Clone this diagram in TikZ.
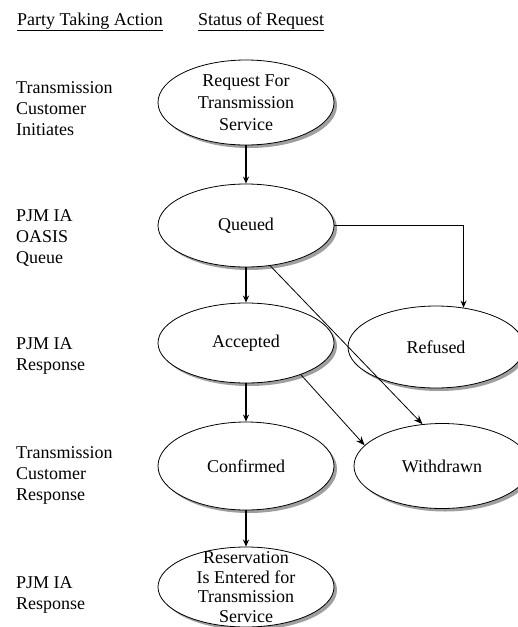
\documentclass[tikz,border=0pt]{standalone}
\usepackage{fontspec}
\setmainfont{Liberation Serif}
\usetikzlibrary{shapes.geometric,shadows,arrows.meta}
\newcommand\fs{\fontsize{18}{21}\selectfont}
\tikzset{
  state/.style={ellipse, draw, fill=white, line width=0.8pt, inner sep=0pt,
    minimum width=176pt, minimum height=84pt,
    drop shadow={shadow xshift=3pt, shadow yshift=-3pt, fill=gray!75, opacity=1}},
  txt/.style={align=center, font=\fs, inner sep=0pt},
  lbl/.style={align=left, font=\fs, inner sep=0pt, anchor=north west},
  head/.style={font=\fs, inner sep=0pt, anchor=base west},
  vflow/.style={line width=1.4pt, -{Stealth[length=7pt,width=6pt]}},
  dflow/.style={line width=0.8pt, -{Stealth[length=9pt,width=7pt,inset=3pt]}}
}
\begin{document}
\begin{tikzpicture}[x=1pt,y=-1pt]
\clip (0,0) rectangle (518,627);
\fill[white] (0,0) rectangle (518,627);
% headings
\node[head] (h1) at (17,25) {Party Taking Action};
\node[head] (h2) at (198,25) {Status of Request};
\draw[line width=1.3pt] ([yshift=-1.5pt]h1.south west) -- ([yshift=-1.5pt]h1.south east);
\draw[line width=1.3pt] ([yshift=-1.5pt]h2.south west) -- ([yshift=-1.5pt]h2.south east);
% left labels
\node[lbl] (l1) at (16,81) {Transmission\\Customer\\Initiates};
\node[lbl] (l2) at (16,209) {PJM IA\\OASIS\\Queue};
\node[lbl] (l3) at (16,337) {PJM IA\\Response};
\node[lbl] (l4) at (16,446) {Transmission\\Customer\\Response};
\node[lbl] (l5) at (16,576) {PJM IA\\Response};
% states
\node[state, minimum height=85pt, label={[txt]center:{Request For\\[1pt]Transmission\\[1pt]Service}}] (req) at (246,102.5) {};
\node[state, minimum height=83pt, label={[txt]center:Queued}] (que) at (246,225.5) {};
\node[state, minimum height=80pt, label={[txt]center:Accepted}] (acc) at (246,343) {};
\node[state, minimum height=82pt, label={[txt]center:Refused}] (ref) at (436,347) {};
\node[state, minimum height=88pt, label={[txt]center:Confirmed}] (con) at (246,466) {};
\node[state, minimum height=85pt, label={[txt]center:Withdrawn}] (wit) at (442,466) {};
\node[state, minimum height=80pt, label={[txt, font=\fontsize{18}{19.5}\selectfont]center:{Reservation\\Is Entered for\\Transmission\\Service}}] (res) at (246,587) {};
% connectors
\draw[vflow] (req) -- (que);
\draw[vflow] (que) -- (acc);
\draw[vflow] (acc) -- (con);
\draw[vflow] (con) -- (res);
\draw[vflow] (que.east) -| (ref.55);
\draw[dflow] (que.-59) -- (wit.115);
\draw[dflow] (acc.-30) -- (wit.165);
\end{tikzpicture}
\end{document}
